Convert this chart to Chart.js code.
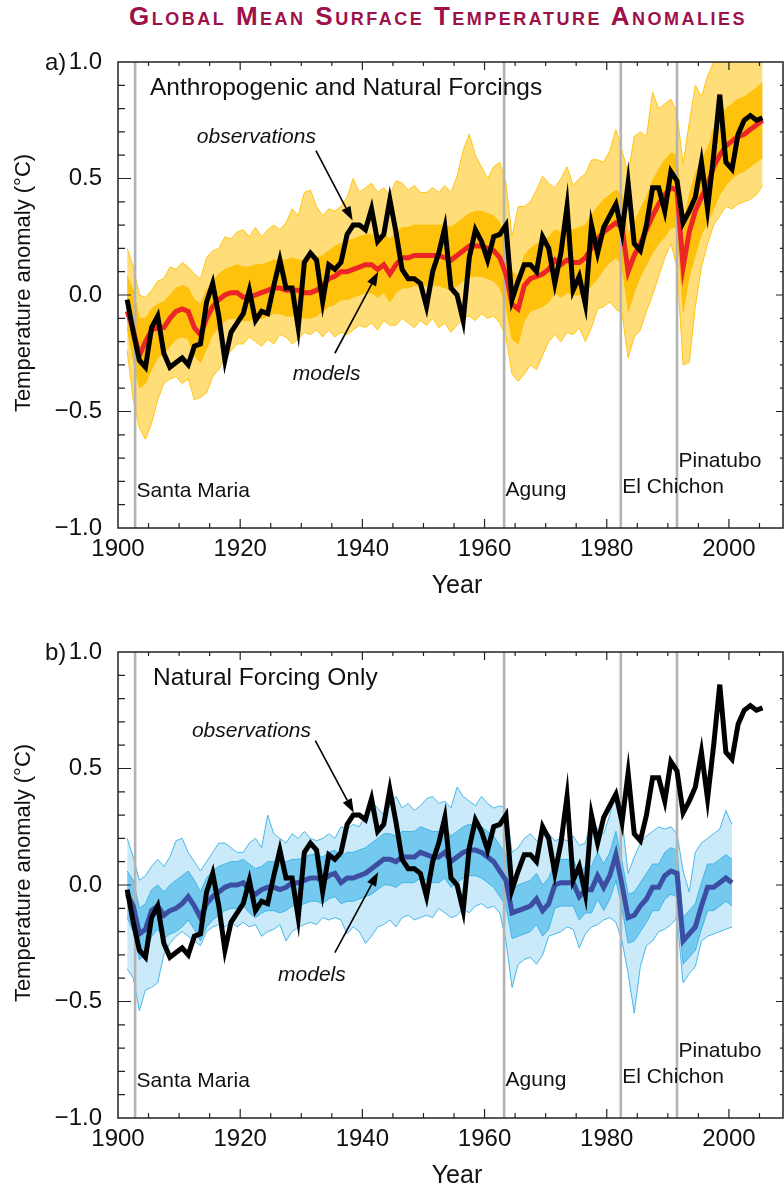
<!DOCTYPE html>
<html>
<head>
<meta charset="utf-8">
<script src="https://cdn.jsdelivr.net/npm/chart.js@4.4.1/dist/chart.umd.min.js"></script>
<style>
  html, body { margin: 0; padding: 0; background: #fff; }
  body { position: relative; width: 784px; height: 1185px; overflow: hidden; }
  #title {
    position: absolute; left: 129px; top: 3px;
    font: bold 26px/26px "Liberation Sans", Arial, Helvetica, sans-serif;
    font-variant-caps: small-caps; letter-spacing: 2.5px; color: #9e1049; white-space: nowrap;
  }
  canvas { position: absolute; left: 0; }
  #chartA { top: 0; }
  #chartB { top: 590px; }
</style>
</head>
<body>
<div id="title">Global Mean Surface Temperature Anomalies</div>
<canvas id="chartA" width="784" height="600"></canvas>
<canvas id="chartB" width="784" height="600"></canvas>
<script>
// Annual global mean surface temperature anomalies (°C, relative to 1901–1950)
const firstYear = 1901;

// Observations 1901–2005
const observed = [
  -0.02,-0.16,-0.28,-0.31,-0.14,-0.09,-0.25,-0.31,-0.29,-0.27,
  -0.30,-0.22,-0.21,-0.03, 0.05,-0.09,-0.28,-0.16,-0.12,-0.08,
   0.02,-0.11,-0.07,-0.08, 0.04, 0.15, 0.03, 0.03,-0.14, 0.14,
   0.18, 0.15,-0.03, 0.13, 0.11, 0.14, 0.26, 0.30, 0.30, 0.28,
   0.37, 0.23, 0.26, 0.41, 0.27, 0.11, 0.07, 0.07, 0.05,-0.05,
   0.10, 0.18, 0.29, 0.03, 0.00,-0.11, 0.16, 0.28, 0.23, 0.15,
   0.25, 0.26, 0.30,-0.02, 0.06, 0.13, 0.13, 0.10, 0.25, 0.20,
   0.05, 0.18, 0.38, 0.02, 0.08,-0.04, 0.30, 0.18, 0.29, 0.34,
   0.39, 0.27, 0.48, 0.22, 0.19, 0.30, 0.46, 0.46, 0.36, 0.53,
   0.49, 0.31, 0.36, 0.42, 0.57, 0.37, 0.60, 0.86, 0.57, 0.54,
   0.69, 0.75, 0.77, 0.75, 0.76
];

// Anthropogenic + natural forcing runs, 1901–2005: ensemble mean, extremes and dense core
const allMean = [
  -0.07,-0.15,-0.26,-0.20,-0.15,-0.14,-0.14,-0.10,-0.07,-0.06,
  -0.07,-0.14,-0.17,-0.10,-0.05,-0.02, 0.00, 0.01, 0.01,-0.01,
  -0.01, 0.00, 0.01, 0.02, 0.03, 0.03, 0.02, 0.02, 0.02, 0.01,
   0.01, 0.02, 0.04, 0.07, 0.08, 0.10, 0.10, 0.11, 0.12, 0.13,
   0.13, 0.11, 0.13, 0.09, 0.13, 0.16, 0.16, 0.17, 0.17, 0.17,
   0.17, 0.17, 0.16, 0.15, 0.17, 0.19, 0.21, 0.21, 0.21, 0.20,
   0.19, 0.16, 0.09,-0.04,-0.06, 0.04, 0.07, 0.08, 0.09, 0.11,
   0.15, 0.13, 0.15, 0.14, 0.14, 0.16, 0.20, 0.24, 0.27, 0.29,
   0.31, 0.29, 0.10, 0.17, 0.22, 0.28, 0.34, 0.39, 0.43, 0.46,
   0.45, 0.12, 0.27, 0.36, 0.42, 0.47, 0.55, 0.60, 0.64, 0.66,
   0.68, 0.69, 0.71, 0.73, 0.75
];
const allMax = [
  .20,.12,.00,-.01,.02,.06,.07,.12,.11,.14,
  .12,.09,.07,.16,.19,.20,.25,.24,.27,.28,
  .25,.29,.25,.28,.30,.28,.31,.37,.34,.44,
  .45,.38,.34,.37,.36,.38,.42,.50,.44,.46,
  .48,.44,.46,.43,.49,.48,.45,.47,.44,.44,
  .46,.44,.47,.44,.51,.62,.69,.60,.55,.50,
  .55,.57,.48,.25,.38,.38,.40,.45,.51,.48,
  .46,.50,.55,.47,.50,.52,.58,.58,.57,.62,
  .71,.62,.52,.68,.70,.68,.87,.80,.82,.84,
  .78,.56,.74,.90,.85,.94,1.00,1.05,1.02,1.05,
  1.03,1.08,1.04,1.10,1.02
];
const allMin = [
  -.24,-.45,-.57,-.62,-.55,-.45,-.38,-.36,-.35,-.38,
  -.36,-.45,-.44,-.42,-.35,-.32,-.27,-.24,-.21,-.21,
  -.18,-.20,-.22,-.19,-.21,-.17,-.18,-.21,-.19,-.16,
  -.17,-.15,-.18,-.15,-.18,-.16,-.17,-.15,-.13,-.14,
  -.12,-.15,-.11,-.13,-.13,-.10,-.12,-.14,-.11,-.13,
  -.10,-.14,-.12,-.16,-.13,-.10,-.09,-.11,-.08,-.10,
  -.09,-.12,-.18,-.34,-.37,-.34,-.30,-.32,-.26,-.20,
  -.17,-.20,-.16,-.17,-.14,-.20,-.14,-.06,-.05,-.03,
  -.06,-.08,-.27,-.18,-.15,-.07,.00,.08,.16,.22,
  .12,-.30,-.29,-.05,.12,.22,.30,.34,.38,.37,
  .39,.40,.41,.43,.47
];
const allCoreHigh = [
  .08,.02,-.10,-.10,-.06,-.04,-.03,.00,.03,.04,
  .03,-.02,-.04,.02,.06,.09,.11,.12,.13,.12,
  .12,.13,.13,.14,.15,.15,.15,.16,.15,.15,
  .16,.16,.17,.19,.21,.22,.23,.24,.25,.26,
  .26,.25,.26,.24,.27,.29,.29,.30,.30,.30,
  .30,.30,.30,.29,.31,.33,.35,.36,.36,.35,
  .34,.31,.24,.10,.08,.17,.20,.22,.23,.25,
  .28,.27,.29,.28,.29,.30,.34,.38,.41,.43,
  .45,.43,.26,.31,.37,.42,.49,.54,.58,.61,
  .60,.30,.43,.52,.58,.63,.71,.76,.80,.82,
  .84,.85,.87,.89,.91
];
const allCoreLow = [
  -.14,-.28,-.40,-.38,-.32,-.27,-.25,-.22,-.19,-.18,
  -.19,-.26,-.29,-.23,-.17,-.14,-.11,-.10,-.10,-.11,
  -.11,-.10,-.10,-.09,-.08,-.08,-.09,-.09,-.09,-.10,
  -.10,-.09,-.07,-.05,-.04,-.02,-.02,-.01,.00,.01,
  .01,-.01,.01,-.03,.01,.03,.03,.04,.04,.04,
  .04,.04,.03,.02,.04,.06,.08,.08,.08,.07,
  .06,.03,-.05,-.19,-.21,-.11,-.07,-.06,-.05,-.03,
  .01,-.01,.01,.00,.00,.01,.04,.07,.11,.14,
  .16,.13,-.07,.01,.08,.13,.18,.22,.25,.29,
  .29,-.07,.08,.17,.26,.31,.37,.43,.47,.50,
  .52,.53,.55,.57,.59
];

// Natural forcing only runs, 1901–2000
const natMean = [
  -.04,-.09,-.21,-.19,-.11,-.09,-.13,-.11,-.10,-.08,
  -.05,-.09,-.14,-.08,-.05,-.03,-.01,.00,.00,.01,
  -.02,-.04,-.02,-.01,-.01,-.02,-.01,.01,.01,.02,
  .03,.03,.02,.04,.05,.01,.03,.03,.04,.05,
  .07,.09,.11,.11,.10,.12,.12,.12,.14,.13,
  .12,.12,.14,.10,.12,.14,.15,.15,.14,.12,
  .10,.06,.02,-.12,-.11,-.10,-.09,-.06,-.11,-.08,
  .00,.01,.01,.01,-.05,-.02,-.02,.04,-.01,.04,
  .13,.00,-.14,-.13,-.09,-.06,-.01,-.01,.04,.06,
  .05,-.24,-.21,-.18,-.09,-.01,-.01,.01,.03,.01
];
const natMax = [
  .20,.12,.02,.04,.08,.11,.08,.12,.19,.20,
  .14,.10,.06,.10,.14,.18,.18,.16,.14,.14,
  .18,.20,.16,.30,.22,.20,.18,.22,.20,.23,
  .20,.19,.20,.22,.20,.25,.24,.26,.25,.30,
  .36,.33,.30,.34,.38,.33,.35,.32,.34,.37,
  .38,.35,.36,.33,.42,.38,.36,.34,.38,.35,
  .33,.34,.33,.14,.16,.20,.22,.19,.21,.22,
  .19,.20,.19,.21,.17,.18,.28,.24,.22,.30,
  .41,.28,.05,.12,.18,.21,.23,.25,.24,.25,
  .22,.06,-.03,.14,.18,.20,.22,.24,.32,.26
];
const natMin = [
  -.36,-.40,-.54,-.45,-.44,-.42,-.30,-.25,-.22,-.20,
  -.22,-.24,-.26,-.20,-.18,-.17,-.18,-.16,-.18,-.16,
  -.18,-.17,-.22,-.20,-.19,-.17,-.24,-.20,-.18,-.17,
  -.16,-.17,-.14,-.15,-.14,-.15,-.21,-.18,-.20,-.25,
  -.22,-.18,-.17,-.15,-.18,-.14,-.13,-.15,-.14,-.13,
  -.14,-.10,-.12,-.14,-.13,-.10,-.12,-.09,-.08,-.10,
  -.09,-.12,-.24,-.44,-.34,-.32,-.31,-.34,-.30,-.22,
  -.21,-.20,-.18,-.19,-.27,-.21,-.18,-.17,-.15,-.14,
  -.16,-.24,-.38,-.55,-.35,-.26,-.24,-.20,-.19,-.17,
  -.14,-.42,-.38,-.35,-.24,-.22,-.21,-.20,-.19,-.18
];
const natCoreHigh = [
  .06,.02,-.10,-.08,-.02,.00,-.03,.00,.02,.04,
  .06,.02,-.03,.03,.06,.08,.09,.10,.10,.11,
  .09,.07,.08,.10,.10,.09,.10,.11,.11,.12,
  .13,.13,.12,.14,.15,.12,.14,.14,.15,.16,
  .18,.20,.22,.22,.21,.23,.23,.23,.25,.24,
  .23,.23,.25,.21,.23,.25,.26,.26,.25,.23,
  .21,.17,.13,-.02,.00,.01,.02,.05,.00,.03,
  .10,.11,.11,.11,.05,.08,.08,.14,.09,.14,
  .23,.10,-.04,-.03,.01,.05,.09,.09,.14,.16,
  .15,-.14,-.11,-.08,.01,.09,.09,.11,.13,.11
];
const natCoreLow = [
  -.14,-.20,-.32,-.30,-.22,-.19,-.23,-.21,-.20,-.18,
  -.15,-.19,-.24,-.18,-.15,-.13,-.11,-.10,-.10,-.09,
  -.12,-.14,-.12,-.11,-.11,-.12,-.11,-.09,-.09,-.08,
  -.07,-.07,-.08,-.06,-.05,-.08,-.07,-.07,-.06,-.05,
  -.04,-.02,.00,.00,-.01,.01,.01,.01,.03,.02,
  .01,.01,.03,-.01,.01,.03,.04,.04,.03,.01,
  -.01,-.05,-.09,-.23,-.22,-.21,-.20,-.17,-.22,-.19,
  -.10,-.09,-.09,-.09,-.15,-.12,-.12,-.06,-.11,-.06,
  .02,-.10,-.25,-.24,-.20,-.16,-.11,-.11,-.06,-.04,
  -.05,-.34,-.31,-.28,-.19,-.11,-.11,-.09,-.07,-.09
];

// Major volcanic eruptions (decimal year)
const volcanoNames = ['Santa Maria', 'Agung', 'El Chichon', 'Pinatubo'];
const volcanoDates = [1902.8, 1963.2, 1982.3, 1991.5];

// Axis tick labels
const yearTickLabels = ['1900', '1920', '1940', '1960', '1980', '2000'];
const anomalyTickLabels = ['\u22121.0', '\u22120.5', '0.0', '0.5', '1.0'];

const FONT = '"Liberation Sans", Arial, Helvetica, sans-serif';
const X_MIN = 1900, X_MAX = 2008.85;

// annual means are placed at mid-year
function series(values) {
  return values.map((v, i) => ({ x: firstYear + i + 0.5, y: v }));
}

function drawArrow(ctx, x0, y0, x1, y1) {
  const ang = Math.atan2(y1 - y0, x1 - x0);
  const len = 14, half = 5;
  const bx = x1 - len * Math.cos(ang), by = y1 - len * Math.sin(ang);
  ctx.beginPath();
  ctx.moveTo(x0, y0); ctx.lineTo(bx, by);
  ctx.lineWidth = 1.6; ctx.strokeStyle = '#000'; ctx.stroke();
  ctx.beginPath();
  ctx.moveTo(x1, y1);
  ctx.lineTo(bx + half * Math.sin(ang), by - half * Math.cos(ang));
  ctx.lineTo(bx - half * Math.sin(ang), by + half * Math.cos(ang));
  ctx.closePath(); ctx.fillStyle = '#000'; ctx.fill();
}

// frame, inward ticks, axis titles and annotations
const decorations = {
  id: 'decorations',
  afterDatasetsDraw(chart, args, o) {
    const { ctx, chartArea: a, scales: { x, y } } = chart;
    ctx.save();
    ctx.strokeStyle = '#222';
    ctx.lineWidth = 1.5;
    ctx.strokeRect(a.left, a.top, a.right - a.left, a.bottom - a.top);

    ctx.lineWidth = 1.2;
    ctx.beginPath();
    for (let yr = 1905; yr <= 2005; yr += 5) {
      const px = x.getPixelForValue(yr);
      const major = yr % 20 === 0;
      ctx.moveTo(px, a.bottom); ctx.lineTo(px, a.bottom - (major ? 9 : 5));
      ctx.moveTo(px, a.top); ctx.lineTo(px, a.top + (major ? 8 : 4));
    }
    for (let k = -9; k <= 9; k++) {
      const py = y.getPixelForValue(k / 10);
      const major = k % 5 === 0;
      ctx.moveTo(a.left, py); ctx.lineTo(a.left + (major ? 13 : 7), py);
      ctx.moveTo(a.right, py); ctx.lineTo(a.right - (major ? 7 : 3), py);
    }
    ctx.stroke();

    ctx.fillStyle = '#111';
    ctx.textBaseline = 'alphabetic';
    // panel letter and heading
    ctx.font = '24px ' + FONT;
    ctx.textAlign = 'left';
    ctx.fillText(o.letter, 45, 70);
    ctx.font = '24.5px ' + FONT;
    ctx.fillText(o.heading, o.headingX, a.top + 33);

    // axis titles
    ctx.font = '25px ' + FONT;
    ctx.textAlign = 'center';
    ctx.fillText('Year', 457, 593);
    ctx.save();
    ctx.translate(30, 283);
    ctx.rotate(-Math.PI / 2);
    ctx.font = '22px ' + FONT;
    ctx.fillText('Temperature anomaly (\u00B0C)', 0, 0);
    ctx.restore();

    // volcano names
    ctx.font = '21px ' + FONT;
    ctx.textAlign = 'left';
    volcanoNames.forEach((name, i) => {
      ctx.fillText(name, x.getPixelForValue(volcanoDates[i]) + 1.5, y.getPixelForValue(o.volcanoLabelY[i]));
    });

    // curve labels with arrows
    ctx.font = 'italic 21px ' + FONT;
    ctx.fillText('observations', x.getPixelForValue(o.obsText[0]), y.getPixelForValue(o.obsText[1]));
    ctx.fillText('models', x.getPixelForValue(o.modelText[0]), y.getPixelForValue(o.modelText[1]));
    [o.obsArrow, o.modelArrow].forEach(ar => {
      drawArrow(ctx, x.getPixelForValue(ar[0]), y.getPixelForValue(ar[1]),
                x.getPixelForValue(ar[2]), y.getPixelForValue(ar[3]));
    });
    ctx.restore();
  }
};

function buildChart(id, p) {
  const [r, g, b] = p.rgb;
  const line = (data, color, width, order, extra) => Object.assign({
    data, borderColor: color, borderWidth: width, pointRadius: 0, fill: false,
    order, tension: 0, borderJoinStyle: 'miter', borderCapStyle: 'butt'
  }, extra || {});
  const datasets = [
    line(series(p.max), `rgba(${r},${g},${b},0.95)`, 1, 9, { fill: '+1', backgroundColor: `rgba(${r},${g},${b},${p.fringeAlpha})` }),
    line(series(p.min), `rgba(${r},${g},${b},0.95)`, 1, 9),
    line(series(p.coreHigh), `rgb(${r},${g},${b})`, 1, 8, { fill: '+1', backgroundColor: `rgba(${r},${g},${b},${p.coreAlpha})` }),
    line(series(p.coreLow), `rgb(${r},${g},${b})`, 1, 8),
  ];
  volcanoDates.forEach(v => {
    datasets.push(line([{ x: v, y: -1 }, { x: v, y: 1 }], '#b3b3b3', 2.6, 5));
  });
  datasets.push(line(series(p.mean), p.meanColor, 5, 2));
  datasets.push(line(series(observed), '#000', 5, 1));

  return new Chart(document.getElementById(id), {
    type: 'line',
    data: { datasets },
    options: {
      responsive: false, animation: false, devicePixelRatio: 1,
      layout: { padding: { top: 62, bottom: 22, left: 0, right: 1 } },
      plugins: { legend: { display: false }, tooltip: { enabled: false }, decorations: p.deco },
      scales: {
        x: {
          type: 'linear', min: X_MIN, max: X_MAX,
          afterFit(s) { s.height = 50; },
          grid: { display: false, drawTicks: false }, border: { display: false },
          ticks: {
            stepSize: 20, includeBounds: false, autoSkip: false, maxRotation: 0, padding: 7,
            color: '#111', font: { family: FONT, size: 24 },
            callback: v => yearTickLabels.find(t => Number(t) === v) || ''
          }
        },
        y: {
          type: 'linear', min: -1, max: 1,
          afterFit(s) { s.width = 118; },
          grid: { display: false, drawTicks: false }, border: { display: false },
          ticks: {
            stepSize: 0.5, padding: 16, color: '#111', font: { family: FONT, size: 24 },
            callback: v => anomalyTickLabels[Math.round((v + 1) * 2)]
          }
        }
      }
    },
    plugins: [decorations]
  });
}

buildChart('chartA', {
  rgb: [255, 194, 12], fringeAlpha: 0.55, coreAlpha: 1, meanColor: '#ec2626',
  mean: allMean, max: allMax, min: allMin, coreHigh: allCoreHigh, coreLow: allCoreLow,
  deco: {
    letter: 'a)', heading: 'Anthropogenic and Natural Forcings', headingX: 150,
    volcanoLabelY: [-0.867, -0.863, -0.85, -0.738],
    obsText: [1912.9, 0.652], obsArrow: [1932.4, 0.62, 1938.4, 0.32],
    modelText: [1928.6, -0.365], modelArrow: [1935.5, -0.25, 1942.6, 0.10]
  }
});

buildChart('chartB', {
  rgb: [64, 180, 232], fringeAlpha: 0.28, coreAlpha: 0.62, meanColor: '#3c4ea2',
  mean: natMean, max: natMax, min: natMin, coreHigh: natCoreHigh, coreLow: natCoreLow,
  deco: {
    letter: 'b)', heading: 'Natural Forcing Only', headingX: 153,
    volcanoLabelY: [-0.867, -0.863, -0.85, -0.738],
    obsText: [1912.1, 0.635], obsArrow: [1932.3, 0.62, 1938.6, 0.31],
    modelText: [1926.2, -0.41], modelArrow: [1935.5, -0.29, 1942.6, 0.056]
  }
});
</script>
</body>
</html>
